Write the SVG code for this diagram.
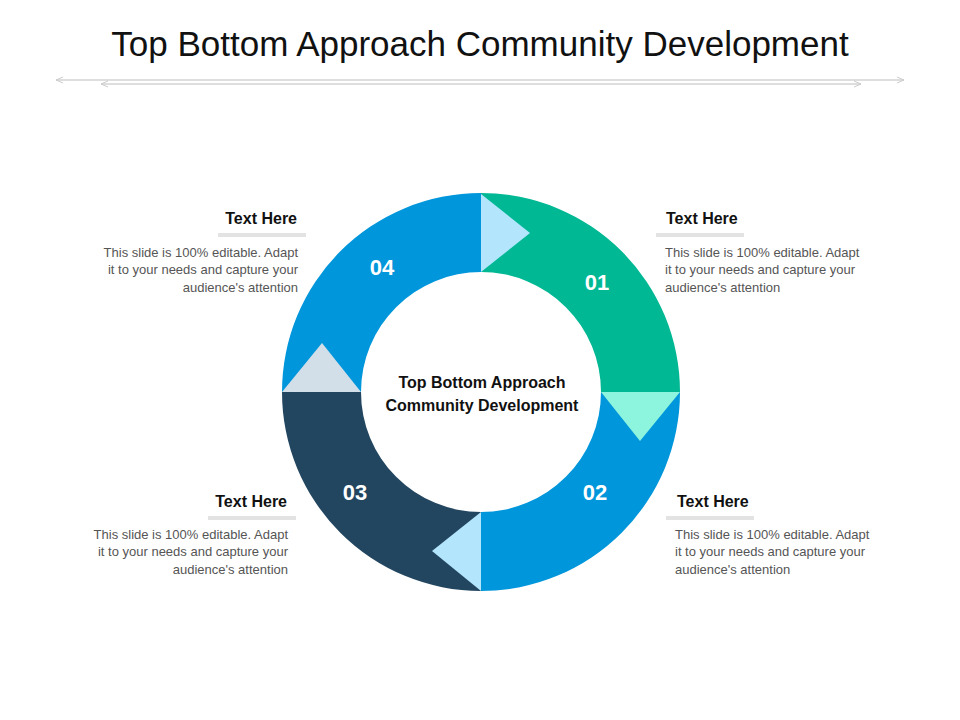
<svg xmlns="http://www.w3.org/2000/svg" width="960" height="720" viewBox="0 0 960 720">
<style>
.t{font-family:"Liberation Sans",Arial,sans-serif}
.h{font-size:16px;font-weight:bold;fill:#111}
.b{font-size:13px;fill:#555}
.n{font-size:22px;font-weight:bold;fill:#fff}
.bar{fill:#e3e3e3}
</style>
<defs>
<marker id="a" markerWidth="8" markerHeight="8" refX="7" refY="4" orient="auto-start-reverse" markerUnits="userSpaceOnUse"><path d="M0,1 L7,4 L0,7" fill="none" stroke="#ccc" stroke-width="1"/></marker>
</defs>
<rect width="960" height="720" fill="#fff"/>
<text class="t" x="480" y="56" text-anchor="middle" font-size="35" fill="#111">Top Bottom Approach Community Development</text>
<g id="connectors" stroke="#d3d3d3" stroke-width="1.5">
<line x1="56" y1="80" x2="904" y2="80" marker-start="url(#a)" marker-end="url(#a)"/>
<line x1="101" y1="84" x2="861" y2="84" marker-start="url(#a)" marker-end="url(#a)"/>
</g>
<g id="seg01"><path d="M481,193 A199,199 0 0 1 680,392 L601,392 A120,120 0 0 0 481,272 Z" fill="#00B894"/><text class="t n" x="597" y="290" text-anchor="middle">01</text></g>
<g id="seg02"><path d="M680,392 A199,199 0 0 1 481,591 L481,512 A120,120 0 0 0 601,392 Z" fill="#0096DB"/><text class="t n" x="595" y="500" text-anchor="middle">02</text></g>
<g id="seg03"><path d="M481,591 A199,199 0 0 1 282,392 L361,392 A120,120 0 0 0 481,512 Z" fill="#234660"/><text class="t n" x="355" y="500" text-anchor="middle">03</text></g>
<g id="seg04"><path d="M282,392 A199,199 0 0 1 481,193 L481,272 A120,120 0 0 0 361,392 Z" fill="#0096DB"/><text class="t n" x="382" y="275" text-anchor="middle">04</text></g>
<g id="arrows">
<polygon points="481,194 481,272 530,233" fill="#B3E5FC"/>
<polygon points="601,392 680,392 640,441" fill="#8DF5DD"/>
<polygon points="481,512 481,591 432,551" fill="#B3E5FC"/>
<polygon points="282,392 361,392 322,343" fill="#D2DEE8"/>
</g>
<g id="center"><text class="t" font-size="16" font-weight="bold" fill="#111" text-anchor="middle"><tspan x="482" y="388">Top Bottom Approach</tspan><tspan x="482" y="411">Community Development</tspan></text></g>
<g id="txt04"><text class="t h" x="297" y="224" text-anchor="end">Text Here</text><rect class="bar" x="218" y="233" width="88" height="4"/>
<text class="t b" text-anchor="end"><tspan x="298" y="257">This slide is 100% editable. Adapt</tspan><tspan x="298" y="274">it to your needs and capture your</tspan><tspan x="298" y="292">audience's attention</tspan></text></g>
<g id="txt01"><text class="t h" x="666" y="224">Text Here</text><rect class="bar" x="656" y="233" width="88" height="4"/>
<text class="t b"><tspan x="665" y="257">This slide is 100% editable. Adapt</tspan><tspan x="665" y="274">it to your needs and capture your</tspan><tspan x="665" y="292">audience's attention</tspan></text></g>
<g id="txt03"><text class="t h" x="287" y="507" text-anchor="end">Text Here</text><rect class="bar" x="208" y="516" width="88" height="4"/>
<text class="t b" text-anchor="end"><tspan x="288" y="539">This slide is 100% editable. Adapt</tspan><tspan x="288" y="556">it to your needs and capture your</tspan><tspan x="288" y="574">audience's attention</tspan></text></g>
<g id="txt02"><text class="t h" x="677" y="507">Text Here</text><rect class="bar" x="666" y="516" width="88" height="4"/>
<text class="t b"><tspan x="675" y="539">This slide is 100% editable. Adapt</tspan><tspan x="675" y="556">it to your needs and capture your</tspan><tspan x="675" y="574">audience's attention</tspan></text></g>
</svg>
